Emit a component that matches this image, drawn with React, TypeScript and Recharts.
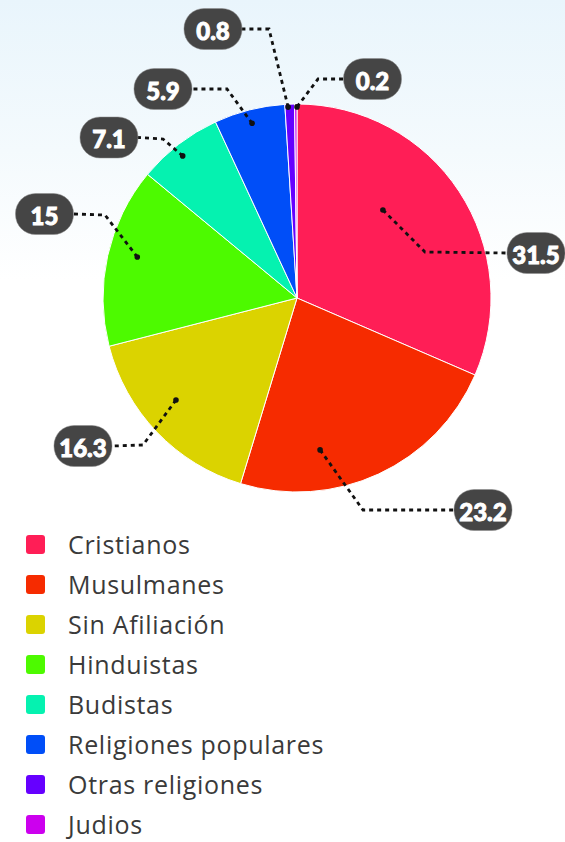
import React from "react";
import { PieChart, Pie, Cell, Legend } from "recharts";

const CATEGORIES = [
  "Cristianos",
  "Musulmanes",
  "Sin Afiliación",
  "Hinduistas",
  "Budistas",
  "Religiones populares",
  "Otras religiones",
  "Judios",
];
const VALUES = [31.5, 23.2, 16.3, 15, 7.1, 5.9, 0.8, 0.2];
const COLORS = [
  "#ff1e56",
  "#f62b00",
  "#dbd300",
  "#4dfa00",
  "#05f2b0",
  "#004ef8",
  "#6600ff",
  "#cc00ee",
];

// Leader-line layout for each value label (relative to the pie's center)
const LABEL_LAYOUT = [
  { shift: 12.4, r: 0.634, elbow: [128, -46], pill: [239, -45] },
  { shift: -16.2, r: 0.792, elbow: [66, 212], pill: [186, 212] },
  { shift: -3.6, r: 0.816, elbow: [-154, 147], pill: [-214, 148] },
  { shift: -1.8, r: 0.85, elbow: [-192, -83], pill: [-252.5, -84] },
  { shift: 1.2, r: 0.94, elbow: [-134, -159], pill: [-188, -160.5] },
  { shift: 0.2, r: 0.93, elbow: [-70, -209], pill: [-134, -209] },
  { shift: 0.5, r: 0.985, elbow: [-28, -269], pill: [-84, -269] },
  { shift: -0.36, r: 0.985, elbow: [21, -219], pill: [75.5, -219] },
];

const data = CATEGORIES.map((name, i) => ({ name, value: VALUES[i] }));

const RAD = Math.PI / 180;
const PILL_W = 58;
const PILL_H = 41;

const renderLabel = (props: any) => {
  const { cx, cy, midAngle, outerRadius, index, value } = props;
  const L = LABEL_LAYOUT[index];
  const a = (midAngle + L.shift) * RAD;
  const ax = cx + outerRadius * L.r * Math.cos(a);
  const ay = cy - outerRadius * L.r * Math.sin(a);
  const ex = cx + L.elbow[0];
  const ey = cy + L.elbow[1];
  const px = cx + L.pill[0];
  const py = cy + L.pill[1];
  const edgeX = px - Math.sign(px - ex) * (PILL_W / 2);
  return (
    <g key={`lbl-${index}`}>
      <polyline
        points={`${ax},${ay} ${ex},${ey} ${edgeX},${py}`}
        fill="none"
        stroke="#111"
        strokeWidth={2.8}
        strokeDasharray="4 4"
      />
      <circle cx={ax} cy={ay} r={2.8} fill="#111" />
      <rect
        x={px - PILL_W / 2}
        y={py - PILL_H / 2}
        width={PILL_W}
        height={PILL_H}
        rx={20}
        ry={20}
        fill="#454545"
        stroke="#8c8c8c"
        strokeOpacity={0.5}
        strokeWidth={1}
      />
      <text
        x={px}
        y={py + 1}
        textAnchor="middle"
        dominantBaseline="central"
        fill="#ffffff"
        stroke="#ffffff"
        strokeWidth={0.9}
        fontFamily="Lato, 'Open Sans', sans-serif"
        fontWeight={900}
        fontSize={24}
      >
        {String(value)}
      </text>
    </g>
  );
};

const renderLegend = () => (
  <div
    style={{
      fontFamily: "'Open Sans', sans-serif",
      fontSize: 25,
      letterSpacing: 0.7,
      color: "#3a3a3a",
    }}
  >
    {CATEGORIES.map((c, i) => (
      <div
        key={c}
        style={{ display: "flex", alignItems: "center", height: 40 }}
      >
        <span
          style={{
            display: "inline-block",
            width: 19,
            height: 19,
            borderRadius: 3,
            background: COLORS[i],
            marginLeft: 26,
            marginRight: 23,
          }}
        />
        <span style={{ lineHeight: 1 }}>{c}</span>
      </div>
    ))}
  </div>
);

export default function App() {
  return (
    <div
      style={{
        position: "absolute",
        top: 0,
        left: 0,
        width: 565,
        height: 842,
        background:
          "linear-gradient(to bottom, #e9f5fc 0px, #f4fafd 150px, #ffffff 280px, #ffffff 842px)",
        overflow: "hidden",
      }}
    >
      <PieChart
        width={565}
        height={842}
        margin={{ top: 0, right: 0, bottom: 0, left: 0 }}
      >
        <Pie
          data={data}
          dataKey="value"
          nameKey="name"
          cx={297}
          cy={298}
          outerRadius={194}
          startAngle={90}
          endAngle={-270}
          stroke="#ffffff"
          strokeWidth={1}
          label={renderLabel}
          labelLine={false}
          isAnimationActive={false}
        >
          {data.map((d, i) => (
            <Cell key={d.name} fill={COLORS[i]} />
          ))}
        </Pie>
        <Legend
          layout="vertical"
          align="center"
          verticalAlign="middle"
          content={renderLegend}
          wrapperStyle={{ top: 524, left: 0, width: 440 }}
        />
      </PieChart>
    </div>
  );
}
